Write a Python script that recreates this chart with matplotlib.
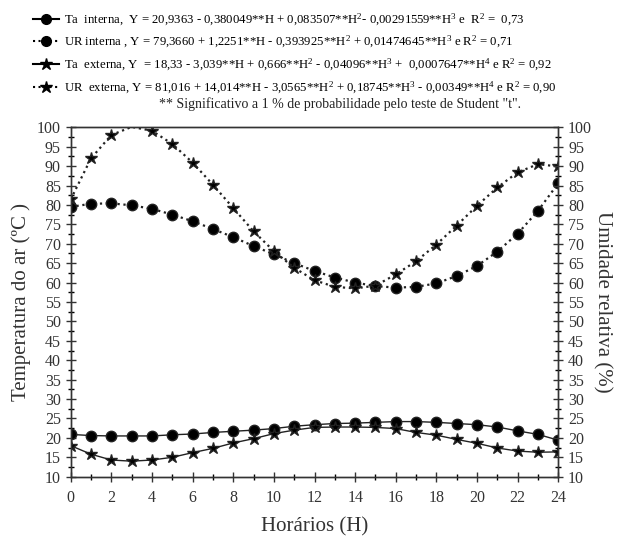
import matplotlib
matplotlib.use("Agg")
import matplotlib.pyplot as plt
import numpy as np
from matplotlib.lines import Line2D
from matplotlib.ticker import MultipleLocator

plt.rcParams['font.family'] = ['Liberation Serif', 'DejaVu Serif']
plt.rcParams['mathtext.fontset'] = 'custom'
plt.rcParams['mathtext.rm'] = 'Liberation Serif'
plt.rcParams['mathtext.it'] = 'Liberation Serif:italic'

# data
horas = np.arange(0, 25)

ta_interna = [20.9, 20.6, 20.5, 20.5, 20.5, 20.8, 21.0, 21.4, 21.7, 22.0, 22.4, 23.0, 23.4,
              23.7, 23.8, 24.0, 24.2, 24.2, 24.0, 23.7, 23.4, 22.8, 21.8, 20.9, 19.4]
ta_externa = [18.0, 15.8, 14.3, 14.0, 14.3, 15.0, 16.2, 17.3, 18.7, 19.8, 21.1, 22.0, 22.7,
              22.8, 22.8, 22.7, 22.4, 21.4, 20.7, 19.6, 18.6, 17.4, 16.6, 16.3, 16.4]
ur_interna = [79.5, 80.3, 80.4, 79.9, 79.0, 77.5, 75.8, 73.8, 71.7, 69.4, 67.3, 65.0, 63.0,
              61.3, 60.0, 59.1, 58.7, 58.9, 59.8, 61.7, 64.3, 68.0, 72.6, 78.5, 85.6]
ur_externa = [81.4, 92.0, 98.0, 100.1, 99.1, 95.7, 90.9, 85.2, 79.2, 73.2, 68.1, 63.8, 60.6,
              58.9, 58.5, 59.2, 62.1, 65.5, 69.8, 74.7, 79.8, 84.5, 88.4, 90.5, 89.9]
# no marker drawn at 3 h for UR externa
ur_externa_sem_marca = [3]

labels = [
    r"Ta  interna,  Y = 20,9363 - 0,380049**H + 0,083507**H$^{2}$- 0,00291559**H$^{3}$ e  R$^{2}$ =  0,73",
    r"UR interna , Y = 79,3660 + 1,2251**H - 0,393925**H$^{2}$ + 0,01474645**H$^{3}$ e R$^{2}$ = 0,71",
    r"Ta  externa, Y  = 18,33 - 3,039**H + 0,666**H$^{2}$ - 0,04096**H$^{3}$ +  0,0007647**H$^{4}$ e R$^{2}$ = 0,92",
    r"UR  externa, Y = 81,016 + 14,014**H - 3,0565**H$^{2}$ + 0,18745**H$^{3}$ - 0,00349**H$^{4}$ e R$^{2}$ = 0,90",
]

fig = plt.figure(figsize=(6.19, 5.40), dpi=100)
ax = fig.add_axes([0.1142, 0.1172, 0.7878, 0.6471])

ax.plot(horas, ta_interna, '-', color='#222222', lw=1.0, marker='o', ms=7.5, mfc='black', mec='#222222')
ax.plot(horas, ur_interna, ':', color='#222222', lw=1.6, marker='o', ms=7.5, mfc='black', mec='#222222')
ax.plot(horas, ta_externa, '-', color='#222222', lw=1.0, marker='*', ms=9, mfc='black', mec='#222222')
marcas = [i for i in range(len(horas)) if i not in ur_externa_sem_marca]
ax.plot(horas, ur_externa, ':', color='#222222', lw=1.6, marker='*', ms=9, mfc='black', mec='#222222',
        markevery=marcas)

ax.set_xlim(0, 24)
ax.set_ylim(10, 100)
ax.xaxis.set_major_locator(MultipleLocator(2))
ax.xaxis.set_minor_locator(MultipleLocator(1))
ax.yaxis.set_major_locator(MultipleLocator(5))
ax.yaxis.set_minor_locator(MultipleLocator(2.5))
ax.tick_params(which='major', direction='inout', length=7, width=1, labelsize=11.5, colors='#333333')
ax.tick_params(which='minor', direction='inout', length=4, width=1)
ax.tick_params(axis='x', pad=6)

for s in ax.spines.values():
    s.set_linewidth(1.0)
    s.set_color('#333333')

ax2 = ax.twinx()
ax2.set_ylim(10, 100)
ax2.yaxis.set_major_locator(MultipleLocator(5))
ax2.yaxis.set_minor_locator(MultipleLocator(2.5))
ax2.tick_params(which='major', direction='inout', length=7, width=1, labelsize=11.5, colors='#333333')
ax2.tick_params(which='minor', direction='inout', length=4, width=1)
for s in ax2.spines.values():
    s.set_linewidth(1.0)
    s.set_color('#333333')

ax.set_xlabel("Horários (H)", fontsize=15, color='#333333', labelpad=8)
ax.set_ylabel("Temperatura do ar (ºC )", fontsize=15, color='#333333', labelpad=4)
ax2.set_ylabel("Umidade relativa (%)", fontsize=15, color='#333333', rotation=270, labelpad=14)

handles = [
    Line2D([], [], ls='-', color='black', lw=1.5, marker='o', ms=7),
    Line2D([], [], ls=':', color='black', lw=1.5, marker='o', ms=7),
    Line2D([], [], ls='-', color='black', lw=1.5, marker='*', ms=9),
    Line2D([], [], ls=':', color='black', lw=1.5, marker='*', ms=9),
]
fig.legend(handles, labels, loc='upper left', bbox_to_anchor=(0.045, 0.988), frameon=False,
           fontsize=9.2, handlelength=2.0, handletextpad=0.4, labelspacing=0.52, borderaxespad=0)
fig.text(0.55, 0.808, '** Significativo a 1 % de probabilidade pelo teste de Student "t".',
         ha='center', va='center', fontsize=10, color='#222222')

fig.savefig("out.png", dpi=100)
